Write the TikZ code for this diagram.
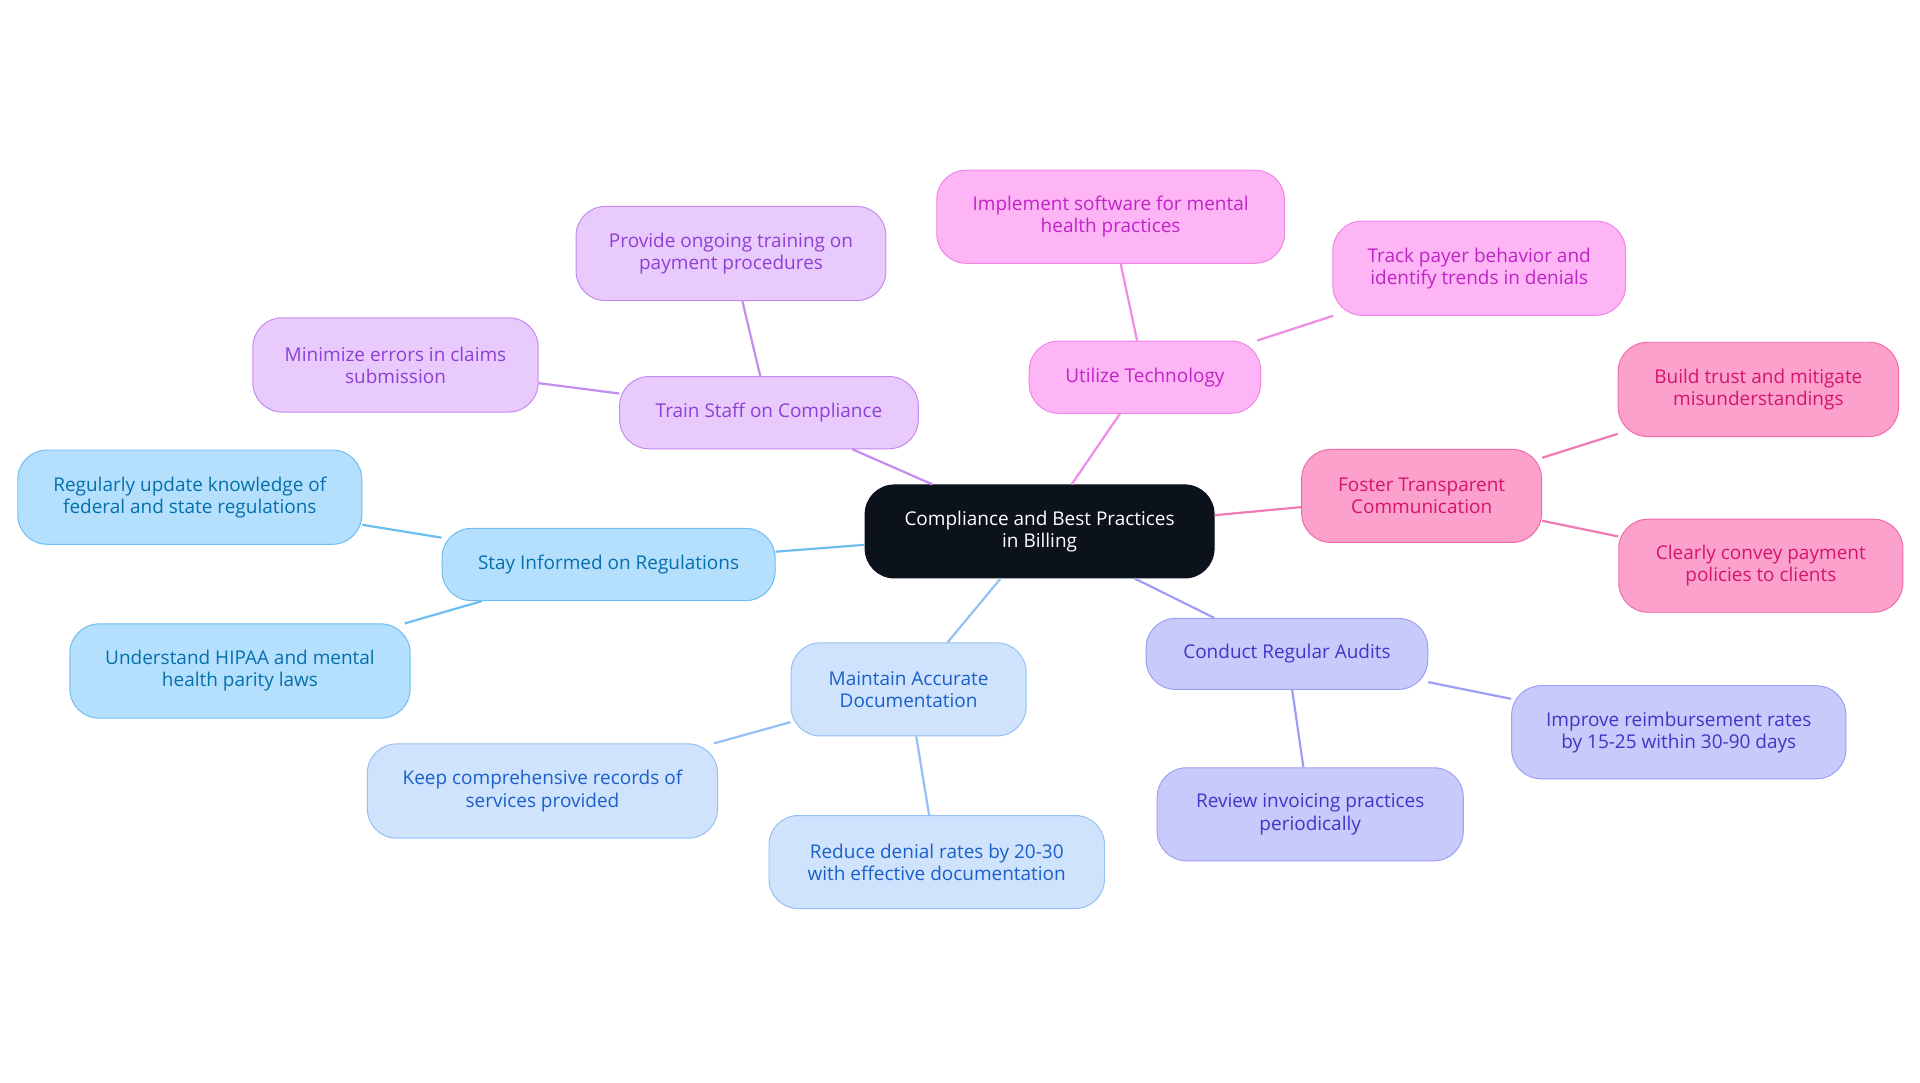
\documentclass[tikz,border=0pt]{standalone}
\usepackage{fontspec}
\setmainfont{Open Sans}
\begin{document}
\begin{tikzpicture}[x=1pt,y=-1pt,
 base/.style={rounded corners=24pt,draw,line width=0.8pt,align=center,font=\fontsize{15.5}{18}\selectfont,inner sep=0pt},
 ce/.style={base,fill=c0,text=white,draw=c0},
 pu/.style={base,fill=puF,draw=puB,text=puT},
 mg/.style={base,fill=mgF,draw=mgB,text=mgT},
 pk/.style={base,fill=pkF,draw=pkB,text=pkT},
 ix/.style={base,fill=inF,draw=inB,text=inT},
 lb/.style={base,fill=lbF,draw=lbB,text=lbT},
 sk/.style={base,fill=skF,draw=skB,text=skT},
 ln/.style={line width=1.8pt}]
\definecolor{c0}{HTML}{0B121C}
\definecolor{puF}{HTML}{E8CBFC}\definecolor{puB}{HTML}{C58AF0}\definecolor{puT}{HTML}{8E3FD6}\definecolor{puL}{HTML}{C48CF0}
\definecolor{mgF}{HTML}{FDB5F5}\definecolor{mgB}{HTML}{EE86E6}\definecolor{mgT}{HTML}{C023C8}\definecolor{mgL}{HTML}{F08CE8}
\definecolor{pkF}{HTML}{FBA1CC}\definecolor{pkB}{HTML}{F06AAA}\definecolor{pkT}{HTML}{D4146E}\definecolor{pkL}{HTML}{F07AB4}
\definecolor{inF}{HTML}{C8CAFC}\definecolor{inB}{HTML}{9C9FF3}\definecolor{inT}{HTML}{4234C4}\definecolor{inL}{HTML}{9C9FF3}
\definecolor{lbF}{HTML}{CFE3FC}\definecolor{lbB}{HTML}{94C0F3}\definecolor{lbT}{HTML}{1B5FCB}\definecolor{lbL}{HTML}{94C0F3}
\definecolor{skF}{HTML}{B4DFFD}\definecolor{skB}{HTML}{6DBDF0}\definecolor{skT}{HTML}{0570AD}\definecolor{skL}{HTML}{6DBDF0}
\useasboundingbox (0,0) rectangle (1568,884);
\node[ce,minimum width=285,minimum height=76] (c) at (849,434) {Compliance and Best Practices\\in Billing};
\node[pu,minimum width=244,minimum height=59] (tr) at (628,337) {Train Staff on Compliance};
\node[pu,minimum width=253,minimum height=77] (pr) at (597,207) {Provide ongoing training on\\payment procedures};
\node[pu,minimum width=233,minimum height=77] (mi) at (323,298) {Minimize errors in claims\\submission};
\node[mg,minimum width=189,minimum height=59] (te) at (935,308) {Utilize Technology};
\node[mg,minimum width=284,minimum height=76] (im) at (907,177) {Implement software for mental\\health practices};
\node[mg,minimum width=239,minimum height=77] (tk) at (1208,219) {Track payer behavior and\\identify trends in denials};
\node[pk,minimum width=196,minimum height=76] (fo) at (1161,405) {Foster Transparent\\Communication};
\node[pk,minimum width=229,minimum height=77] (bu) at (1436,318) {Build trust and mitigate\\misunderstandings};
\node[pk,minimum width=232,minimum height=76] (cl) at (1438,462) {Clearly convey payment\\policies to clients};
\node[ix,minimum width=230,minimum height=58] (au) at (1051,534) {Conduct Regular Audits};
\node[ix,minimum width=273,minimum height=76] (ip) at (1371,598) {Improve reimbursement rates\\by 15-25 within 30-90 days};
\node[ix,minimum width=250,minimum height=76] (rv) at (1070,665) {Review invoicing practices\\periodically};
\node[lb,minimum width=192,minimum height=76] (dc) at (742,563) {Maintain Accurate\\Documentation};
\node[lb,minimum width=286,minimum height=77] (kp) at (443,646) {Keep comprehensive records of\\services provided};
\node[lb,minimum width=274,minimum height=76] (rd) at (765,704) {Reduce denial rates by 20-30\\with effective documentation};
\node[sk,minimum width=272,minimum height=59] (rg) at (497,461) {Stay Informed on Regulations};
\node[sk,minimum width=281,minimum height=77] (ru) at (155,406) {Regularly update knowledge of\\federal and state regulations};
\node[sk,minimum width=278,minimum height=77] (un) at (196,548) {Understand HIPAA and mental\\health parity laws};
\draw[ln,puL] (c) -- (tr); \draw[ln,puL] (tr) -- (pr); \draw[ln,puL] (tr) -- (mi);
\draw[ln,mgL] (c) -- (te); \draw[ln,mgL] (te) -- (im); \draw[ln,mgL] (te) -- (tk);
\draw[ln,pkL] (c) -- (fo); \draw[ln,pkL] (fo) -- (bu); \draw[ln,pkL] (fo) -- (cl);
\draw[ln,inL] (c) -- (au); \draw[ln,inL] (au) -- (ip); \draw[ln,inL] (au) -- (rv);
\draw[ln,lbL] (c) -- (dc); \draw[ln,lbL] (dc) -- (kp); \draw[ln,lbL] (dc) -- (rd);
\draw[ln,skL] (c) -- (rg); \draw[ln,skL] (rg) -- (ru); \draw[ln,skL] (rg) -- (un);
\end{tikzpicture}
\end{document}
